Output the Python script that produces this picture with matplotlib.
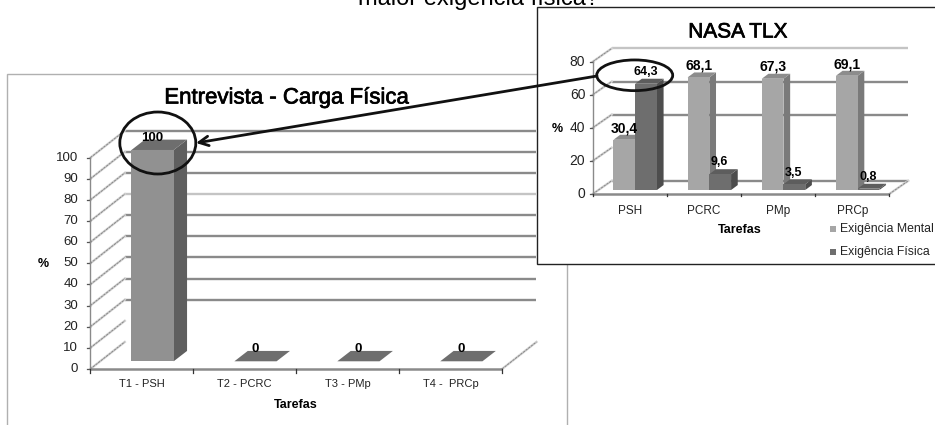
import matplotlib
matplotlib.use("Agg")
import matplotlib.pyplot as plt
import matplotlib.patheffects as pe
from matplotlib.patches import Rectangle, Ellipse

plt.rcParams['font.family'] = ['Liberation Sans', 'DejaVu Sans']

W, H = 935, 425

# left chart
tasks_left = ['T1 - PSH', 'T2 - PCRC', 'T3 - PMp', 'T4 -  PRCp']
carga_fisica = [100, 0, 0, 0]
labels_left = ['100', '0', '0', '0']
ticks_left = [0, 10, 20, 30, 40, 50, 60, 70, 80, 90, 100]

# inset chart
tasks_nasa = ['PSH', 'PCRC', 'PMp', 'PRCp']
exig_mental = [30.4, 68.1, 67.3, 69.1]
exig_fisica = [64.3, 9.6, 3.5, 0.8]
ticks_nasa = [0, 20, 40, 60, 80]

heavy = [pe.withStroke(linewidth=0.5, foreground='black')]


def px_axes(fig, x0, x1, ytop, ybot, zorder):
    a = fig.add_axes([x0 / W, 1 - ybot / H, (x1 - x0) / W, (ybot - ytop) / H], zorder=zorder)
    a.patch.set_alpha(0)
    a.axis('off')
    return a


def bar3d(ax, x, w, val, base, dx, dy, cols):
    top = base + val
    ax.fill([x + w, x + w + dx, x + w + dx, x + w], [base, base + dy, top + dy, top],
            color=cols[2], lw=0, clip_on=False, zorder=4)
    ax.fill([x, x + dx, x + w + dx, x + w], [top, top + dy, top + dy, top],
            color=cols[1], lw=0, clip_on=False, zorder=4)
    if val > 0:
        ax.fill([x, x + w, x + w, x], [base, base, top, top], color=cols[0], lw=0, clip_on=False, zorder=5)


def frame3d(ax, ticks, n, dx, dy, hidden, light, tl):
    ymax = ticks[-1]
    ax.set_xlim(0, n)
    ax.set_ylim(0, ymax)
    for t in ticks:
        if t in hidden:
            pass
        else:
            c = '#c4c4c4' if t in light else '#8a8a8a'
            ax.plot([dx, n + dx], [t + dy, t + dy], color=c, lw=1.7, clip_on=False, zorder=1,
                    solid_capstyle='butt')
        # side wall
        ax.plot([0, dx], [t, t + dy], color='#d2d2d2', lw=1.7, clip_on=False, zorder=1)
        ax.plot([0, dx], [t, t + dy], color='#808080', lw=0.6, ls=(0, (3, 1)), clip_on=False, zorder=1)
        ax.plot([-tl, 0], [t, t], color='#555555', lw=0.9, clip_on=False, zorder=2)
    # floor right edge
    ax.plot([n, n + dx], [0, dy], color='#d2d2d2', lw=1.7, clip_on=False, zorder=1)
    ax.plot([n, n + dx], [0, dy], color='#808080', lw=0.6, ls=(0, (3, 1)), clip_on=False, zorder=1)
    ax.plot([0, 0], [0, ymax], color='#8a8a8a', lw=1.0, clip_on=False, zorder=2)
    ax.plot([0, n], [0, 0], color='#8a8a8a', lw=1.8, clip_on=False, zorder=2, solid_capstyle='butt')
    for i in range(n + 1):
        ax.plot([i, i], [0, -ymax * 0.018], color='#333333', lw=0.9, clip_on=False, zorder=2)


fig = plt.figure(figsize=(W / 100, H / 100), dpi=100, facecolor='white')

# overlay in pixel coordinates for frames, text and annotation
bg = px_axes(fig, 0, W, 0, H, 0)
bg.set_xlim(0, W)
bg.set_ylim(H, 0)
bg.add_patch(Rectangle((7, 74), 560, 400, fc='white', ec='#b0b0b0', lw=1.0, clip_on=False))
bg.text(478, 5, 'maior exigência física?', fontsize=17, ha='center', va='baseline', color='black')
bg.text(287, 98, 'Entrevista - Carga Física', fontsize=16, ha='center', va='center', color='black',
        path_effects=heavy)
bg.text(43, 264, '%', fontsize=9, fontweight='bold', ha='center', va='center')
bg.text(296, 405, 'Tarefas', fontsize=9, fontweight='bold', ha='center', va='center')

# left chart
ax = px_axes(fig, 90.3, 502, 157.7, 369, 1)
frame3d(ax, ticks_left, len(tasks_left), 0.335, 12.8, [0, 10], [70], 0.03)
for t in ticks_left:
    ax.text(-0.12, t, str(t), fontsize=9.5, ha='right', va='center', color='#222222')
for i, name in enumerate(tasks_left):
    ax.text(i + 0.5, -7.2, name, fontsize=8, ha='center', va='center', color='#222222')
    bar3d(ax, i + 0.4, 0.41, carga_fisica[i], 3.65, 0.13, 4.9, ('#919191', '#6e6e6e', '#5f5f5f'))
    ax.text(i + 0.6, carga_fisica[i] + 3.65 + 5.8 if carga_fisica[i] else 9.7, labels_left[i], fontsize=9.5,
            fontweight='bold', ha='center', va='center', zorder=6)

# inset panel
box = px_axes(fig, 0, W, 0, H, 2)
box.set_xlim(0, W)
box.set_ylim(H, 0)
box.add_patch(Rectangle((536.5, 7), 420, 256.5, fc='white', ec='#222222', lw=1.0, clip_on=False))
box.text(738, 32, 'NASA TLX', fontsize=15, ha='center', va='center', path_effects=heavy)
box.text(557, 129, '%', fontsize=9, fontweight='bold', ha='center', va='center')
box.text(740, 230, 'Tarefas', fontsize=9, fontweight='bold', ha='center', va='center')
box.add_patch(Rectangle((830, 226), 6, 6, fc='#a6a6a6', ec='none'))
box.add_patch(Rectangle((830, 249), 6, 6, fc='#6e6e6e', ec='none'))
box.text(840, 229, 'Exigência Mental', fontsize=8.8, ha='left', va='center', color='#222222')
box.text(840, 252, 'Exigência Física', fontsize=8.8, ha='left', va='center', color='#222222')

ax2 = px_axes(fig, 592.7, 889.3, 61.7, 194, 3)
frame3d(ax2, ticks_nasa, len(tasks_nasa), 0.256, 8.0, [20], [80], 0.03)
for t in ticks_nasa:
    ax2.text(-0.1, t, str(t), fontsize=10, ha='right', va='center', color='#222222')
for i, name in enumerate(tasks_nasa):
    ax2.text(i + 0.5, -10.5, name, fontsize=8.5, ha='center', va='center', color='#222222')
    bar3d(ax2, i + 0.28, 0.293, exig_mental[i], 2.4, 0.09, 3.0, ('#a6a6a6', '#8c8c8c', '#7a7a7a'))
    bar3d(ax2, i + 0.573, 0.293, exig_fisica[i], 2.4, 0.09, 3.0, ('#6e6e6e', '#5d5d5d', '#4d4d4d'))
    ax2.text(i + 0.43, exig_mental[i] + 9.5, f'{exig_mental[i]:.1f}'.replace('.', ','), fontsize=10,
             fontweight='bold', ha='center', va='center', zorder=6)
    ax2.text(i + 0.71, exig_fisica[i] + 9.5, f'{exig_fisica[i]:.1f}'.replace('.', ','), fontsize=9,
             fontweight='bold', ha='center', va='center', zorder=6)

# circles and arrow
top = px_axes(fig, 0, W, 0, H, 5)
top.set_xlim(0, W)
top.set_ylim(H, 0)
top.add_patch(Ellipse((157.8, 143), 76, 62, fc='none', ec='#111111', lw=2))
top.add_patch(Ellipse((634.7, 75.3), 76, 30.7, fc='none', ec='#111111', lw=2))
top.annotate('', xy=(196, 143), xytext=(597, 76),
             arrowprops=dict(arrowstyle='->', color='#111111', lw=2, mutation_scale=17,
                             shrinkA=0, shrinkB=0))

fig.savefig('out.png', dpi=100)
